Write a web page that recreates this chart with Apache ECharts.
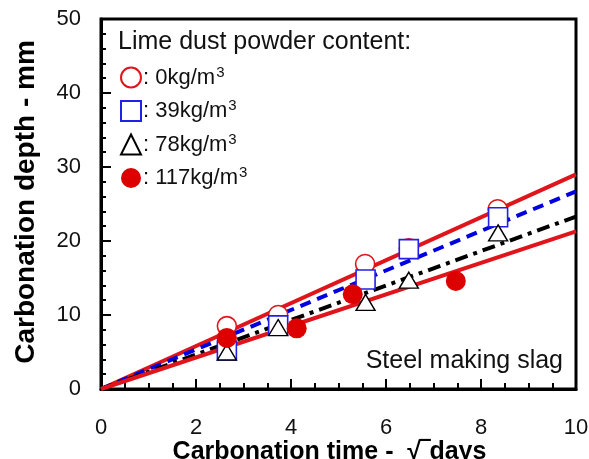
<!DOCTYPE html>
<html>
<head>
<meta charset="utf-8">
<script src="https://cdn.jsdelivr.net/npm/echarts@6/dist/echarts.min.js"></script>
<style>
  html, body { margin: 0; padding: 0; background: #fff; }
  #chart { width: 589px; height: 459px; }
</style>
</head>
<body>
<div id="chart"></div>
<script>
// Carbonation depth vs square root of exposure time, steel making slag mixes
const rootTime0 = [2.65, 3.73, 5.56, 6.48, 8.35];
const depth0 = [8.5, 10.0, 16.9, 19.0, 24.3];
const rootTime39 = [2.65, 3.73, 5.57, 6.48, 8.36];
const depth39 = [5.2, 8.6, 14.8, 18.9, 23.2];
const rootTime78 = [2.65, 3.73, 5.57, 6.48, 8.36];
const depth78 = [5.0, 8.3, 11.7, 14.7, 21.1];
const rootTime117 = [2.65, 4.12, 5.3, 7.47];
const depth117 = [6.9, 8.2, 12.8, 14.6];

// Regression lines through the origin: depth reached at sqrt(t) = 10
const fitEndTime = 10;
const fitEndDepth = [29.0, 26.7, 23.3, 21.3];

const contents = ['0', '39', '78', '117'];
const xTicks = [0, 2, 4, 6, 8, 10];
const yTicks = [0, 10, 20, 30, 40, 50];

const RED = '#e0141b';
const FONT = 'Liberation Sans, Arial, sans-serif';

function pairs(xs, ys) { return xs.map((x, i) => [x, ys[i]]); }
function fitLine(k) { return [[0, 0], [fitEndTime, fitEndDepth[k]]]; }

const lineStyles = [
  { color: RED, width: 4, type: 'solid' },
  { color: '#0000e0', width: 4, type: [11, 7] },
  { color: '#000', width: 4, type: [13, 6, 4, 6] },
  { color: RED, width: 4, type: 'solid' }
];

const lineSeries = lineStyles.map((ls, k) => ({
  type: 'line',
  data: fitLine(k),
  symbol: 'none',
  silent: true,
  z: 2,
  lineStyle: ls
}));

const names = contents.map(c => c + 'kg');

const scatterSeries = [
  {
    name: names[0], type: 'scatter', data: pairs(rootTime0, depth0),
    symbol: 'circle', symbolSize: 19, z: 3,
    itemStyle: { color: '#fff', borderColor: RED, borderWidth: 1.6, opacity: 1 }
  },
  {
    name: names[1], type: 'scatter', data: pairs(rootTime39, depth39),
    symbol: 'rect', symbolSize: 19, z: 4,
    itemStyle: { color: '#fff', borderColor: '#2020e8', borderWidth: 1.6, opacity: 1 }
  },
  {
    name: names[2], type: 'scatter', data: pairs(rootTime78, depth78),
    symbol: 'triangle', symbolSize: [19, 16], z: 5,
    itemStyle: { color: '#fff', borderColor: '#000', borderWidth: 1.4, opacity: 1 }
  },
  {
    name: names[3], type: 'scatter', data: pairs(rootTime117, depth117),
    symbol: 'circle', symbolSize: 20, z: 6,
    itemStyle: { color: '#dd0000', borderColor: '#dd0000', borderWidth: 0, opacity: 1 }
  }
];

const chart = echarts.init(document.getElementById('chart'), null, { renderer: 'canvas' });

chart.setOption({
  animation: false,
  backgroundColor: '#fff',
  textStyle: { fontFamily: FONT },
  grid: {
    left: 101, top: 19, right: 13, bottom: 70,
    outerBoundsMode: 'none', containLabel: false,
    show: true, borderColor: '#000', borderWidth: 3, backgroundColor: 'transparent'
  },
  xAxis: {
    type: 'value', min: xTicks[0], max: xTicks[xTicks.length - 1], interval: 2,
    name: 'Carbonation time -  \u221A\u203Edays',
    nameLocation: 'middle', nameGap: 51, nameMoveOverlap: false,
    nameTextStyle: { fontSize: 25, fontWeight: 'bold', color: '#000', fontFamily: FONT, padding: [0, 18, 0, 0] },
    axisLine: { show: true, lineStyle: { color: '#000', width: 3 } },
    axisTick: { show: true, inside: true, length: 10, lineStyle: { color: '#000', width: 2 } },
    minorTick: { show: true, splitNumber: 4, length: 6, lineStyle: { color: '#000', width: 2 } },
    axisLabel: { fontSize: 22, color: '#111', margin: 28, fontFamily: FONT },
    splitLine: { show: false }
  },
  yAxis: {
    type: 'value', min: yTicks[0], max: yTicks[yTicks.length - 1], interval: 10,
    name: 'Carbonation depth - mm',
    nameLocation: 'middle', nameGap: 61, nameMoveOverlap: false,
    nameTextStyle: { fontSize: 28, fontWeight: 'bold', color: '#000', fontFamily: FONT, padding: [0, 0, 0, 4] },
    axisLine: { show: true, lineStyle: { color: '#000', width: 3 } },
    axisTick: { show: true, inside: true, length: 10, lineStyle: { color: '#000', width: 2 } },
    minorTick: { show: true, splitNumber: 5, length: 5, lineStyle: { color: '#000', width: 2 } },
    axisLabel: { fontSize: 22, color: '#111', margin: 20, fontFamily: FONT },
    splitLine: { show: false }
  },
  legend: {
    data: names,
    orient: 'vertical',
    left: 115, top: 60,
    itemWidth: 20, itemHeight: 20, itemGap: 10,
    selectedMode: false,
    formatter: function (name) {
      return '{t|: ' + name + '/m}{s|3}';
    },
    textStyle: {
      color: '#111', fontFamily: FONT,
      rich: {
        t: { fontSize: 22, color: '#111', fontFamily: FONT, padding: [0, 0, 0, -3] },
        s: { fontSize: 15, color: '#111', fontFamily: FONT, verticalAlign: 'top', padding: [0, 0, 10, 1] }
      }
    }
  },
  graphic: [
    {
      type: 'text', left: 118, top: 30,
      style: { text: 'Lime dust powder content:', fontSize: 25, fill: '#111', fontFamily: FONT }
    },
    {
      type: 'text', right: 26, top: 349,
      style: { text: 'Steel making slag', fontSize: 25, fill: '#111', fontFamily: FONT }
    }
  ],
  series: lineSeries.concat(scatterSeries)
});
</script>
</body>
</html>
